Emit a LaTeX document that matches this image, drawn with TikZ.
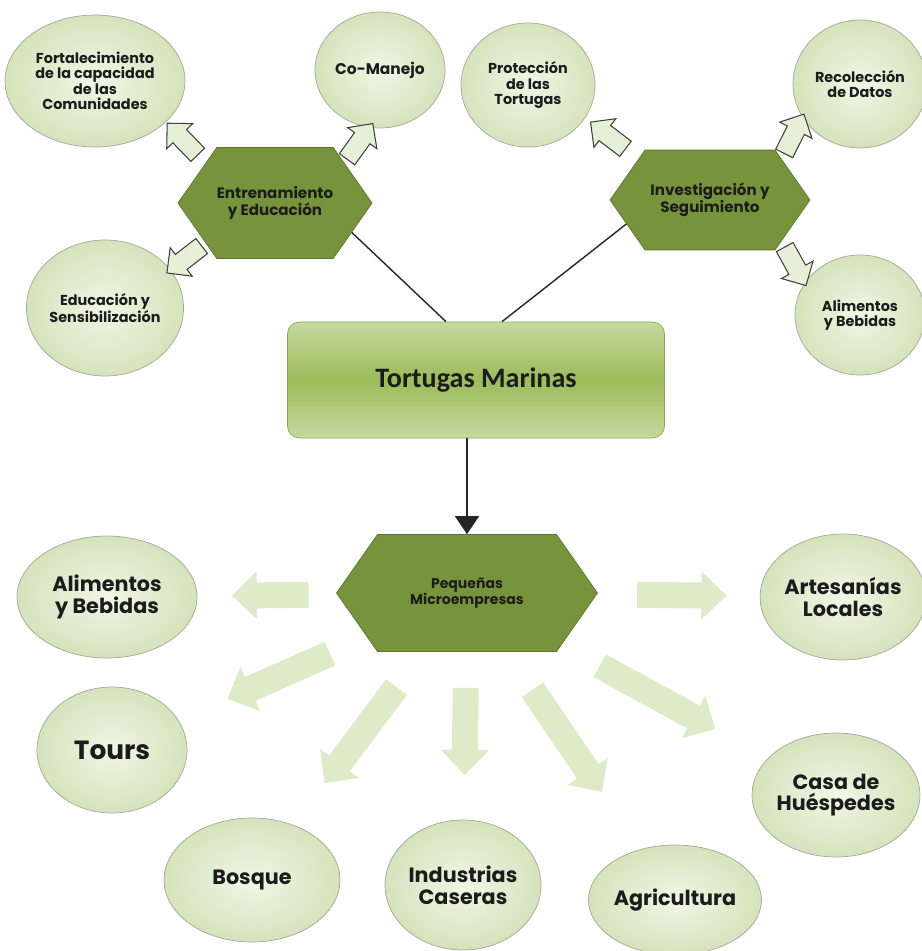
\documentclass[tikz,border=0pt]{standalone}
\usepackage{fontspec}
\setmainfont{Poppins}
\newfontfamily\calib{Carlito}
\usetikzlibrary{shapes.geometric,shapes.symbols,shapes.arrows,arrows.meta,calc}
\definecolor{hexgreen}{HTML}{77933C}
\definecolor{hexline}{HTML}{5C7430}
\definecolor{bubblein}{HTML}{F0F6E6}
\definecolor{bubbleout}{HTML}{D5E3BC}
\definecolor{bubbleline}{HTML}{A3A89A}
\definecolor{boxlight}{HTML}{C6D9A0}
\definecolor{boxmid}{HTML}{9CBB5A}
\definecolor{boxline}{HTML}{8AA84B}
\definecolor{arrfill}{HTML}{E6F0D6}
\definecolor{bigarrfill}{HTML}{DEEBC8}
\definecolor{inktext}{HTML}{1C1C1C}
\tikzset{
  bubble/.style={ellipse, draw=bubbleline, inner color=bubblein, outer color=bubbleout,
    inner sep=0pt, align=center, text=inktext, font=\bfseries\fontsize{8.2}{8.8}\selectfont},
  bubblebig/.style={bubble, font=\bfseries\fontsize{11.8}{12.4}\selectfont},
  hexa/.style={signal, signal to=west and east, signal pointer angle=110, fill=hexgreen,
    draw=hexline, inner sep=0pt, align=center, text=inktext, font=\bfseries\fontsize{8.6}{9.6}\selectfont},
  smallarr/.style={single arrow, draw=black!75, fill=arrfill, line width=0.6pt,
    inner xsep=0pt, inner ysep=0.18cm, minimum height=0.88cm, single arrow head extend=0.17cm,
    sloped, allow upside down, midway},
  bigarr/.style={line width=0.52cm, draw=bigarrfill, -{Triangle[length=0.5cm,width=0.94cm]}},
}
\begin{document}
\begin{tikzpicture}[x=0.02cm,y=-0.02cm]
	\useasboundingbox (0,0) rectangle (921,951);
	\fill[white] (0,0) rectangle (921,951);
	% top bubbles
	\node[bubble, minimum width=3.6cm, minimum height=2.64cm] (fort) at (95,81) {Fortalecimiento\\de la capacidad\\de las\\Comunidades};
	\node[bubble, minimum width=2.6cm, minimum height=2.32cm, font=\bfseries\fontsize{8.8}{9.6}\selectfont] (coman) at (380,70) {Co-Manejo};
	\node[bubble, minimum width=3.0cm, minimum height=2.72cm] (edu) at (105,308) {Educación y\\Sensibilización};
	\node[bubble, minimum width=2.68cm, minimum height=2.48cm] (prot) at (528,85) {Protección\\de las\\Tortugas};
	\node[bubble, minimum width=2.68cm, minimum height=2.56cm] (recol) at (860,84) {Recolección\\de Datos};
	\node[bubble, minimum width=2.6cm, minimum height=2.4cm] (alimA) at (860,315) {Alimentos\\y Bebidas};
	% hexagons
	\node[hexa, minimum width=3.7cm, minimum height=2.22cm] (ent) at (275,203) {Entrenamiento\\y Educación};
	\node[hexa, minimum width=4.0cm, minimum height=2.0cm] (inv) at (710,200) {Investigación y\\Seguimiento};
	% main box
	\node[rectangle, rounded corners=0.24cm, draw=boxline, top color=boxlight, bottom color=boxlight,
	  middle color=boxmid, minimum width=7.54cm, minimum height=2.32cm, text=inktext,
	  font=\calib\bfseries\fontsize{16}{18}\selectfont] (tm) at (476,380) {Tortugas Marinas};
	\node[hexa, minimum width=5.22cm, minimum height=2.34cm, font=\bfseries\fontsize{8}{8.8}\selectfont] (pm) at (467,593) {Pequeñas\\Microempresas};
	% bottom bubbles
	\node[bubblebig, minimum width=3.6cm, minimum height=2.44cm] (alimB) at (107,597) {Alimentos\\y Bebidas};
	\node[bubblebig, minimum width=3.0cm, minimum height=2.52cm, font=\bfseries\fontsize{15}{17}\selectfont] (tours) at (112,750) {Tours};
	\node[bubblebig, minimum width=3.52cm, minimum height=2.48cm] (bosque) at (252,880) {Bosque};
	\node[bubblebig, minimum width=3.12cm, minimum height=2.6cm] (ind) at (463,885) {Industrias\\Caseras};
	\node[bubblebig, minimum width=3.2cm, minimum height=2.2cm] (agri) at (675,900) {Agricultura};
	\node[bubblebig, minimum width=3.16cm, minimum height=2.48cm] (casa) at (836,795) {Casa de\\Huéspedes};
	\node[bubblebig, minimum width=3.12cm, minimum height=2.52cm] (artes) at (843,597) {Artesanías\\Locales};
	% lines into the main box
	\draw[line width=0.8pt, black!85] (ent.-21) -- ($(tm.north)+(-30,0)$);
	\draw[line width=0.8pt, black!85] (inv.196) -- ($(tm.north)+(26,0)$);
	\draw[line width=0.8pt, black!85, -{Triangle[length=0.36cm,width=0.48cm]}] (tm.south -| pm.north) -- (pm.north);
	% small arrows
	\path (ent.150) -- node[smallarr] {} (fort.-30);
	\path (ent.30) -- node[smallarr] {} (coman.260);
	\path (ent.210) -- node[smallarr] {} (edu.30);
	\path (inv.150) -- node[smallarr] {} (prot.-30);
	\path (inv.30) -- node[smallarr] {} (recol.210);
	\path (inv.-30) -- node[smallarr] {} (alimA.150);
	% big arrows
	\draw[bigarr] ($(pm)!0.44!(alimB)$) -- ($(pm)!0.653!(alimB)$);
	\draw[bigarr] ($(pm)!0.386!(tours)$) -- ($(pm)!0.675!(tours)$);
	\draw[bigarr] ($(pm)!0.328!(bosque)$) -- ($(pm)!0.663!(bosque)$);
	\draw[bigarr] ($(pm)!0.325!(ind)$) -- ($(pm)!0.623!(ind)$);
	\draw[bigarr] ($(pm)!0.315!(agri)$) -- ($(pm)!0.648!(agri)$);
	\draw[bigarr] ($(pm)!0.36!(casa)$) -- ($(pm)!0.673!(casa)$);
	\draw[bigarr] ($(pm)!0.452!(artes)$) -- ($(pm)!0.69!(artes)$);
\end{tikzpicture}
\end{document}
